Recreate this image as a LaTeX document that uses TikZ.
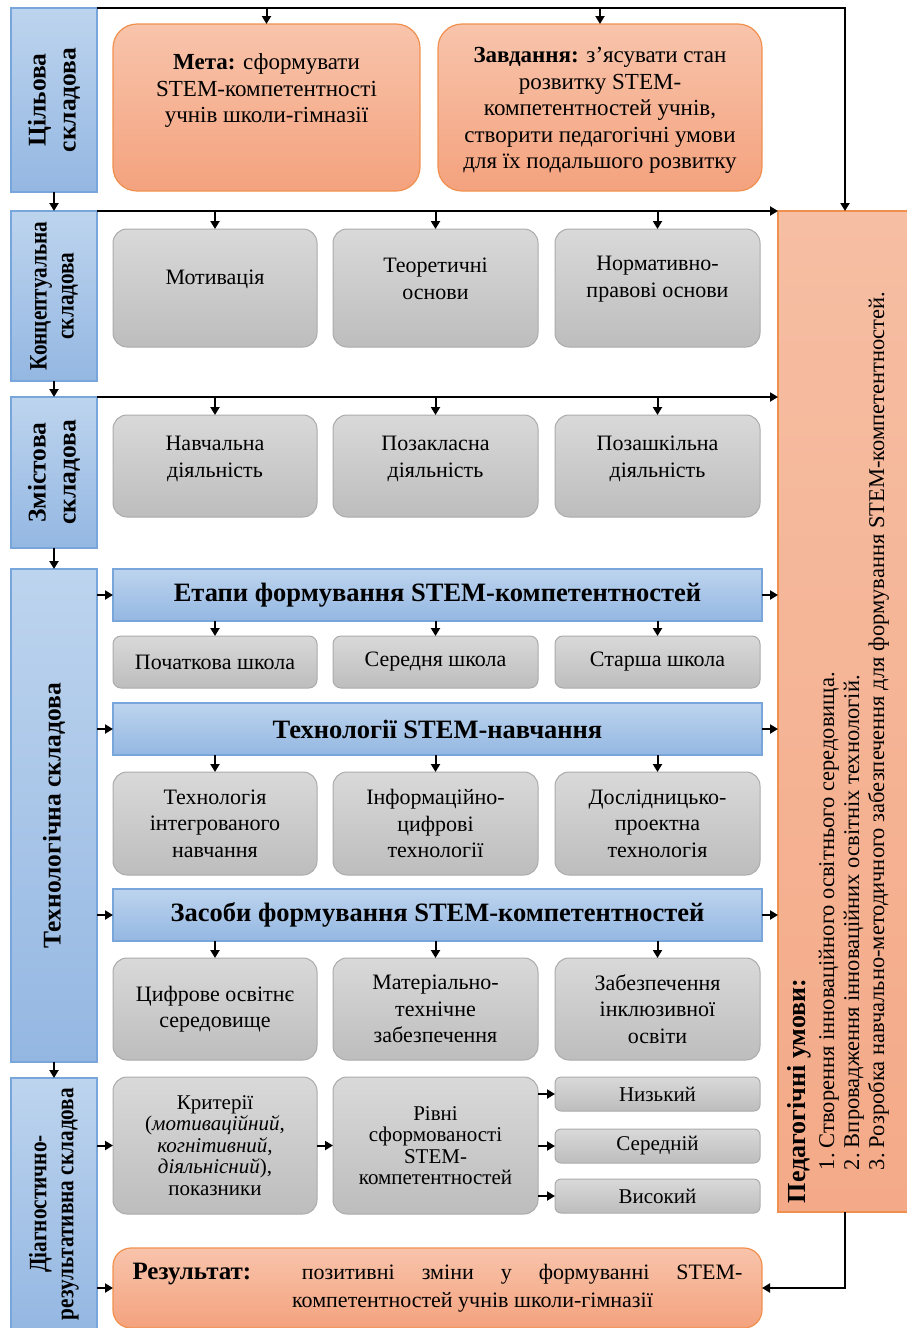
\documentclass[tikz,border=0pt]{standalone}
\usepackage{fontspec}
\setmainfont{Liberation Serif}
\newfontfamily\narrowfont[FakeStretch=0.85]{Liberation Serif}
\usetikzlibrary{arrows.meta,calc}
\definecolor{bluetop}{HTML}{BDD4EE}
\definecolor{bluebot}{HTML}{94B7E2}
\definecolor{blueline}{HTML}{78A5DA}
\definecolor{graytop}{HTML}{D9D9D9}
\definecolor{graybot}{HTML}{BDBDBD}
\definecolor{grayline}{HTML}{ABABAB}
\definecolor{ortop}{HTML}{F8C4AB}
\definecolor{orbot}{HTML}{F4A27E}
\definecolor{orline}{HTML}{F0904F}
\definecolor{putop}{HTML}{F6BEA3}
\definecolor{pubot}{HTML}{F4AA88}
\tikzset{
  every node/.style={inner sep=0pt, outer sep=0pt},
  every label/.style={inner sep=0pt, outer sep=0pt},
  arr/.style={line width=2pt, -{Triangle[length=8pt,width=9pt]}},
  bluebox/.style={draw=blueline, line width=1.2pt, top color=bluetop, bottom color=bluebot},
  colbox/.style={bluebox, minimum width=86pt},
  coltext/.style={rotate=90, align=center, font=\fontsize{25.5}{30}\selectfont\bfseries},
  coltextn/.style={rotate=90, align=center, font=\narrowfont\fontsize{25}{27}\selectfont\bfseries},
  bar/.style={bluebox, minimum width=649pt, minimum height=52pt, font=\fontsize{26.5}{30}\selectfont\bfseries},
  gbox/.style={draw=grayline, line width=1pt, top color=graytop, bottom color=graybot,
    rounded corners=14pt, align=center, font=\fontsize{22}{26.5}\selectfont},
  gtext/.style={align=center, font=\fontsize{22}{26.5}\selectfont},
  sbox/.style={gbox, rounded corners=8pt},
  dtext/.style={gbox, font=\fontsize{21}{21.5}\selectfont},
  obox/.style={draw=orline, line width=1.2pt, top color=ortop, bottom color=orbot,
    rounded corners=24pt, align=center, font=\fontsize{23}{26.5}\selectfont},
  otext/.style={align=center, font=\fontsize{23}{26.5}\selectfont},
  pbox/.style={draw=orline, line width=1.2pt, top color=putop, bottom color=pubot},
}
\begin{document}
\begin{tikzpicture}[x=1pt,y=-1pt]
\useasboundingbox (0,0) rectangle (907,1328);
\clip (0,0) rectangle (907,1328);

% left column
\node[colbox, minimum height=184pt, label={[coltext]center:Цільова\\складова}] (c1) at (54,100) {};
\node[colbox, minimum height=170pt, label={[coltextn]center:Концептуальна\\складова}] (c2) at (54,296) {};
\node[colbox, minimum height=151pt, label={[coltext]center:Змістова\\складова}] (c3) at (54,472.5) {};
\node[colbox, minimum height=493pt, label={[coltext]center:Технологічна складова}] (c4) at (54,815.5) {};
\node[colbox, minimum height=252pt, label={[coltextn]center:Діагностично-\\результативна складова}] (c5) at (54,1204) {};

% right box
\node[pbox, minimum width=134pt, minimum height=1001pt] (pu) at (845,711.5) {};
\node[rotate=90, anchor=north west, align=left, font=\fontsize{22.5}{25}\selectfont] (put) at (787,1203)
 {{\fontsize{26}{25}\selectfont\bfseries Педагогічні умови:}\\[4pt]
  \hspace*{33pt}\makebox[22pt][l]{1.}Створення інноваційного освітнього середовища.\\
  \hspace*{33pt}\makebox[22pt][l]{2.}Впровадження інноваційних освітніх технологій.\\
  \hspace*{33pt}\makebox[22pt][l]{3.}Розробка навчально-методичного забезпечення для формування STEM-компетентностей.};

% goal row
\node[obox, minimum width=307pt, minimum height=167pt] (meta) at (266.5,107.5) {};
\node[otext, anchor=north] (metat) at ([yshift=-30pt]meta.north) {\textbf{Мета:} сформувати\\STEM-компетентності\\учнів школи-гімназії};
\node[obox, minimum width=324pt, minimum height=167pt] (zav) at (600,107.5) {};
\node[otext] (zavt) at ([yshift=-3pt]zav.center)
 {\textbf{Завдання:} з’ясувати стан\\розвитку STEM-\\компетентностей учнів,\\створити педагогічні умови\\для їх подальшого розвитку};

% conceptual row
\node[gbox, minimum width=204pt, minimum height=118pt, label={[gtext,yshift=9pt]center:Мотивація}] (m1) at (215,288) {};
\node[gbox, minimum width=205pt, minimum height=118pt, label={[gtext,yshift=9pt]center:Теоретичні\\основи}] (m2) at (435.5,288) {};
\node[gbox, minimum width=205pt, minimum height=118pt, label={[gtext,yshift=9pt]center:Нормативно-\\правові основи}] (m3) at (657.5,288) {};

% content row
\node[gbox, minimum width=204pt, minimum height=102pt, label={[gtext,yshift=7pt]center:Навчальна\\діяльність}] (n1) at (215,466) {};
\node[gbox, minimum width=205pt, minimum height=102pt, label={[gtext,yshift=7pt]center:Позакласна\\діяльність}] (n2) at (435.5,466) {};
\node[gbox, minimum width=205pt, minimum height=102pt, label={[gtext,yshift=7pt]center:Позашкільна\\діяльність}] (n3) at (657.5,466) {};

% technological
\node[bar] (et) at (437.5,595) {Етапи формування STEM-компетентностей};
\node[sbox, minimum width=204pt, minimum height=52pt] (s1) at (215,662) {Початкова школа};
\node[sbox, minimum width=205pt, minimum height=52pt] (s2) at (435.5,662) {Середня школа};
\node[sbox, minimum width=205pt, minimum height=52pt] (s3) at (657.5,662) {Старша школа};

\node[bar] (te) at (437.5,729) {Технології STEM-навчання};
\node[gbox, minimum width=204pt, minimum height=103pt] (t1) at (215,823.5) {Технологія\\інтегрованого\\навчання};
\node[gbox, minimum width=205pt, minimum height=103pt] (t2) at (435.5,823.5) {Інформаційно-\\цифрові\\технології};
\node[gbox, minimum width=205pt, minimum height=103pt] (t3) at (657.5,823.5) {Дослідницько-\\проектна\\технологія};

\node[bar] (zs) at (437.5,915) {Засоби формування STEM-компетентностей};
\node[gbox, minimum width=204pt, minimum height=102pt] (z1) at (215,1009) {Цифрове освітнє\\середовище};
\node[gbox, minimum width=205pt, minimum height=102pt] (z2) at (435.5,1009) {Матеріально-\\технічне\\забезпечення};
\node[gbox, minimum width=205pt, minimum height=102pt] (z3) at (657.5,1009) {Забезпечення\\інклюзивної\\освіти};

% diagnostic
\node[dtext, minimum width=204pt, minimum height=137pt] (kr) at (215,1145.5) {Критерії\\(\textit{мотиваційний},\\\textit{когнітивний},\\\textit{діяльнісний}),\\показники};
\node[dtext, minimum width=205pt, minimum height=137pt] (rv) at (435.5,1145.5) {Рівні\\сформованості\\STEM-\\компетентностей};
\node[sbox, rounded corners=6pt, minimum width=205pt, minimum height=34pt, font=\fontsize{21}{24}\selectfont] (lo) at (657.5,1094) {Низький};
\node[sbox, rounded corners=6pt, minimum width=205pt, minimum height=34pt, font=\fontsize{21}{24}\selectfont] (me) at (657.5,1146) {Середній};
\node[sbox, rounded corners=6pt, minimum width=205pt, minimum height=34pt, font=\fontsize{21}{24}\selectfont] (hi) at (657.5,1196) {Високий};

\node[obox, rounded corners=18pt, minimum width=649pt, minimum height=80pt, font=\fontsize{22}{28}\selectfont] (res) at (437.5,1288)
 {\makebox[610pt][s]{{\fontsize{25}{28}\selectfont\bfseries Результат:} позитивні зміни у формуванні STEM-}\\\hspace*{70pt}компетентностей учнів школи-гімназії};

% connectors: left column
\draw[arr] (c1.south) -- (c2.north);
\draw[arr] (c2.south) -- (c3.north);
\draw[arr] (c3.south) -- (c4.north);
\draw[arr] (c4.south) -- (c5.north);

% top line
\draw[arr] (c1.north east) -| (pu.north);
\draw[arr] (meta.north |- c1.north) -- (meta.north);
\draw[arr] (zav.north |- c1.north) -- (zav.north);

% conceptual line
\draw[arr] (c2.north east) -- (c2.north east -| pu.west);
\foreach \n in {m1,m2,m3} \draw[arr] (\n.north |- c2.north) -- (\n.north);

% content line
\draw[arr] (c3.north east) -- (c3.north east -| pu.west);
\foreach \n in {n1,n2,n3} \draw[arr] (\n.north |- c3.north) -- (\n.north);

% technological
\foreach \b in {et,te,zs} {
  \draw[arr] (c4.east |- \b.west) -- (\b.west);
  \draw[arr] (\b.east) -- (\b.east -| pu.west);
}
\foreach \n in {s1,s2,s3} \draw[arr] (\n.north |- et.south) -- (\n.north);
\foreach \n in {t1,t2,t3} \draw[arr] (\n.north |- te.south) -- (\n.north);
\foreach \n in {z1,z2,z3} \draw[arr] (\n.north |- zs.south) -- (\n.north);

% diagnostic
\draw[arr] (c5.east |- kr.west) -- (kr.west);
\draw[arr] (kr.east) -- (rv.west);
\foreach \n in {lo,me,hi} \draw[arr] (rv.east |- \n.west) -- (\n.west);
\draw[arr] (c5.east |- res.west) -- (res.west);
\draw[arr] (pu.south) |- (res.east);
\end{tikzpicture}
\end{document}
